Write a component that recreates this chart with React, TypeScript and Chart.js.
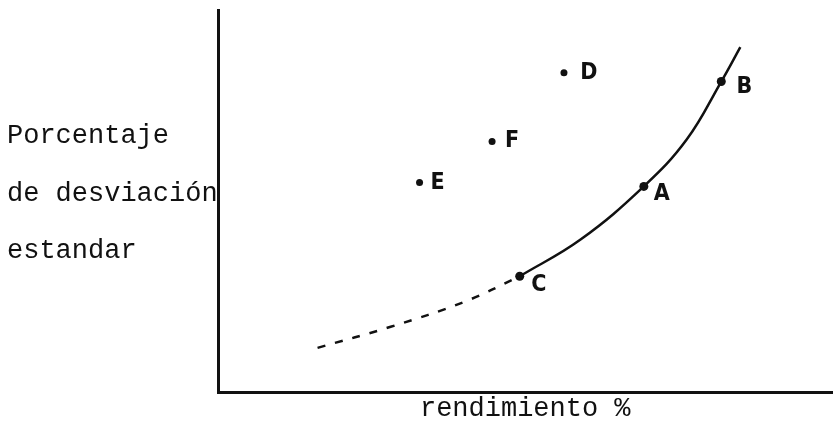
import React, { useEffect, useRef } from "react";
import { Chart, registerables } from "chart.js";

Chart.register(...registerables);

// Carteras (rendimiento %, desviación estándar %), escala arbitraria 0-100
const portfolioLabels = ["A", "B", "C", "D", "E", "F"];
const portfolioReturn = [69.3, 81.9, 49.1, 56.3, 32.8, 44.6];
const portfolioRisk = [53.9, 81.3, 30.4, 83.6, 54.9, 65.6];

// Frontera eficiente (línea continua C - A - B)
const frontierReturn = [49.1, 59.0, 69.3, 76.3, 81.9, 85.0];
const frontierRisk = [30.4, 40.0, 53.9, 66.2, 81.3, 90.3];

// Prolongación discontinua por debajo de C
const extensionReturn = [16.2, 28.1, 40.2, 49.1];
const extensionRisk = [11.7, 17.2, 23.8, 30.4];

const xAxisTitle = "rendimiento %";
const yAxisLines = ["Porcentaje", "de desviación", "estandar"];

const INK = "#111111";

const labelOffsets: Record<string, [number, number]> = {
  A: [18, 8],
  B: [23, 5],
  C: [19, 9],
  D: [25, 0],
  E: [18, 0],
  F: [20, -1],
};

const toPoints = (xs: number[], ys: number[]) => xs.map((x, i) => ({ x, y: ys[i] }));

const textPlugin = {
  id: "textPlugin",
  afterDatasetsDraw(chart: any) {
    const ctx = chart.ctx;
    ctx.save();
    const meta = chart.getDatasetMeta(2);
    ctx.fillStyle = INK;
    ctx.font = 'bold 23px "DejaVu Sans Condensed", "DejaVu Sans", sans-serif';
    ctx.textAlign = "center";
    ctx.textBaseline = "middle";
    meta.data.forEach((el: any, i: number) => {
      const lab = portfolioLabels[i];
      const off = labelOffsets[lab] || [15, 0];
      ctx.fillText(lab, el.x + off[0], el.y + off[1]);
    });
    ctx.font = '27px "Liberation Mono", monospace';
    ctx.textAlign = "left";
    ctx.textBaseline = "alphabetic";
    const baselines = [143, 201, 258];
    yAxisLines.forEach((t, i) => ctx.fillText(t, 7, baselines[i]));
    ctx.restore();
  },
};

export default function App() {
  const ref = useRef<HTMLCanvasElement | null>(null);

  useEffect(() => {
    if (!ref.current) return;
    const chart = new Chart(ref.current, {
      type: "scatter",
      data: {
        datasets: [
          {
            label: "frontera",
            data: toPoints(frontierReturn, frontierRisk),
            showLine: true,
            borderColor: INK,
            borderWidth: 2.5,
            pointRadius: 0,
            tension: 0.4,
          },
          {
            label: "prolongación",
            data: toPoints(extensionReturn, extensionRisk),
            showLine: true,
            borderColor: INK,
            borderWidth: 2.5,
            borderDash: [8, 10],
            pointRadius: 0,
            tension: 0.4,
          },
          {
            label: "carteras",
            data: toPoints(portfolioReturn, portfolioRisk),
            showLine: false,
            backgroundColor: INK,
            borderColor: INK,
            pointRadius: (c: any) => (c.dataIndex < 3 ? 4.5 : 3.5),
            pointBorderWidth: 0,
          },
        ],
      },
      options: {
        responsive: false,
        animation: false,
        devicePixelRatio: 1,
        layout: { padding: { left: 218, top: 10, right: 0, bottom: 0 } },
        plugins: {
          legend: { display: false },
          tooltip: { enabled: false },
        },
        scales: {
          x: {
            type: "linear",
            min: 0,
            max: 100,
            grid: { display: false, drawTicks: false },
            ticks: { display: false },
            border: { display: true, color: INK, width: 3 },
            title: {
              display: true,
              text: xAxisTitle,
              color: INK,
              font: { family: '"Liberation Mono", monospace', size: 27, lineHeight: 1.2 },
              padding: { top: 0, bottom: 2 },
            },
          },
          y: {
            type: "linear",
            min: 0,
            max: 100,
            grid: { display: false, drawTicks: false },
            ticks: { display: false },
            border: { display: true, color: INK, width: 3 },
          },
        },
      },
      plugins: [textPlugin],
    } as any);
    return () => chart.destroy();
  }, []);

  return (
    <div style={{ position: "fixed", left: 0, top: 0, width: 837, height: 427, background: "#fff" }}>
      <canvas ref={ref} width={837} height={427} style={{ display: "block" }} />
    </div>
  );
}
